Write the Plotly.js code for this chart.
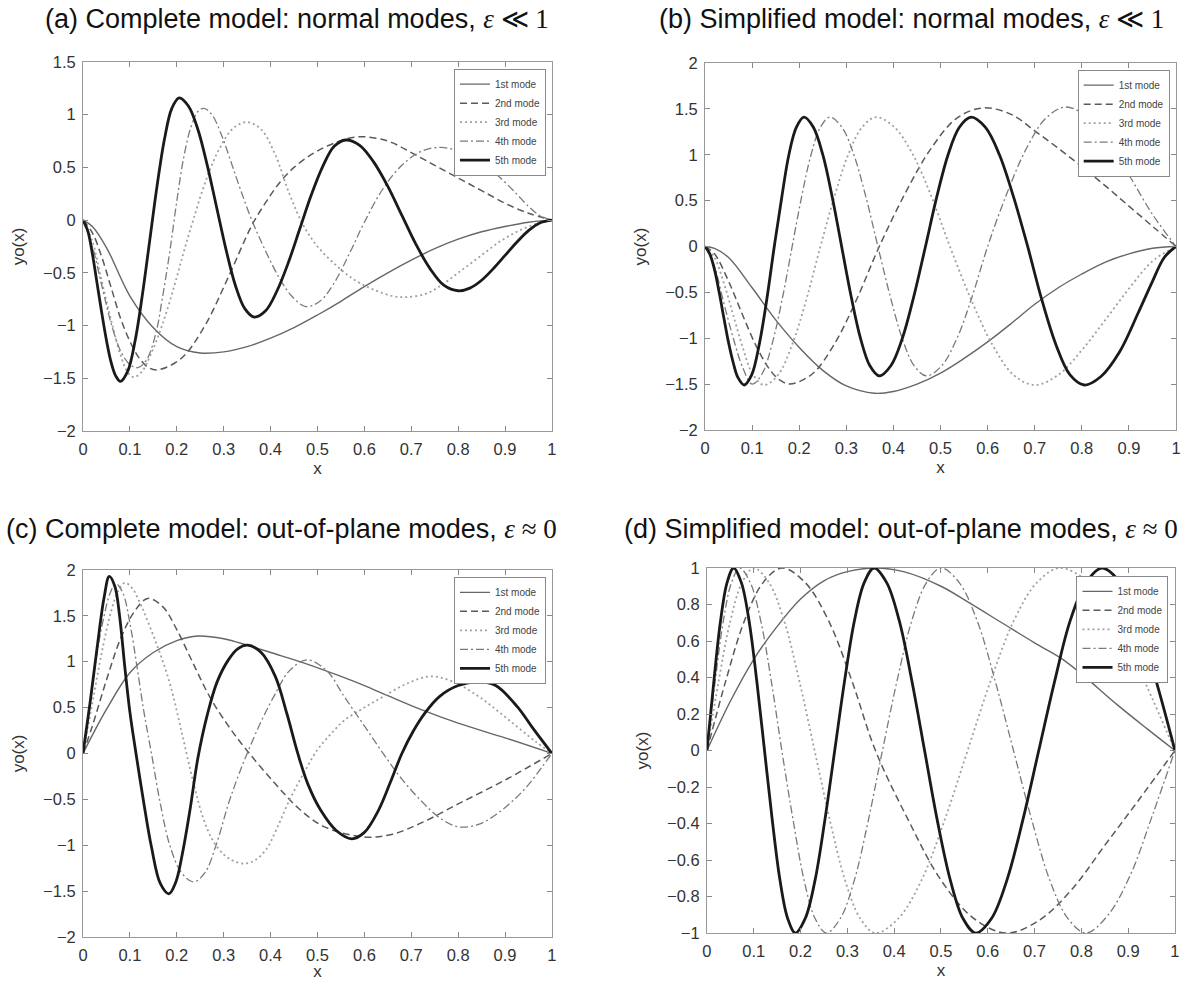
<!DOCTYPE html>
<html><head><meta charset="utf-8">
<script src="https://cdn.plot.ly/plotly-3.0.1.min.js"></script>
<style>html,body{margin:0;padding:0;background:#fff}#chart{width:1196px;height:981px}</style>
</head><body><div id="chart"></div>
<script>
// ---------- data ----------
const modeNames = ["1st mode", "2nd mode", "3rd mode", "4th mode", "5th mode"];
const panelTitles = [
  "(a) Complete model: normal modes, <span style=\"font-family:'Liberation Serif'\"><i>ε</i> ≪ 1</span>",
  "(b) Simplified model: normal modes, <span style=\"font-family:'Liberation Serif'\"><i>ε</i> ≪ 1</span>",
  "(c) Complete model: out-of-plane modes, <span style=\"font-family:'Liberation Serif'\"><i>ε</i> ≈ 0</span>",
  "(d) Simplified model: out-of-plane modes, <span style=\"font-family:'Liberation Serif'\"><i>ε</i> ≈ 0</span>"
];
const xTickVals = [0, 0.1, 0.2, 0.3, 0.4, 0.5, 0.6, 0.7, 0.8, 0.9, 1];

// (a) Complete model, normal modes
const xA1 = [0, 0.02, 0.05, 0.1, 0.15, 0.2, 0.25, 0.3, 0.35, 0.4, 0.45, 0.5, 0.55, 0.6, 0.65, 0.7, 0.75, 0.8, 0.85, 0.9, 0.95, 1];
const yA1 = [0, -0.06, -0.26, -0.72, -1.02, -1.2, -1.26, -1.25, -1.2, -1.12, -1.02, -0.9, -0.77, -0.63, -0.5, -0.38, -0.27, -0.18, -0.11, -0.06, -0.02, 0];
const xA2 = [0, 0.02, 0.04, 0.06, 0.08, 0.1, 0.12, 0.14, 0.16, 0.21, 0.26, 0.31, 0.36, 0.39, 0.42, 0.45, 0.49, 0.53, 0.585, 0.65, 0.7, 0.75, 0.8, 0.85, 0.9, 0.95, 1];
const yA2 = [0, -0.12, -0.35, -0.64, -0.93, -1.15, -1.31, -1.4, -1.42, -1.31, -1.0, -0.54, -0.05, 0.17, 0.36, 0.5, 0.63, 0.72, 0.79, 0.75, 0.64, 0.52, 0.4, 0.28, 0.16, 0.065, 0];
const xA3 = [0, 0.02, 0.04, 0.06, 0.08, 0.095, 0.108, 0.125, 0.145, 0.17, 0.195, 0.215, 0.235, 0.26, 0.29, 0.32, 0.35, 0.38, 0.41, 0.44, 0.47, 0.5, 0.54, 0.58, 0.62, 0.66, 0.69, 0.73, 0.76, 0.8, 0.845, 0.89, 0.93, 0.97, 1];
const yA3 = [0, -0.2, -0.58, -0.95, -1.28, -1.44, -1.49, -1.44, -1.27, -0.98, -0.62, -0.3, 0, 0.35, 0.67, 0.87, 0.93, 0.86, 0.62, 0.25, -0.05, -0.25, -0.43, -0.57, -0.66, -0.72, -0.73, -0.7, -0.63, -0.5, -0.35, -0.2, -0.1, -0.03, 0];
const xA4 = [0, 0.02, 0.04, 0.06, 0.08, 0.1, 0.117, 0.135, 0.155, 0.17, 0.185, 0.2, 0.215, 0.23, 0.245, 0.258, 0.275, 0.296, 0.315, 0.335, 0.36, 0.39, 0.42, 0.445, 0.475, 0.505, 0.535, 0.57, 0.6, 0.64, 0.68, 0.72, 0.763, 0.81, 0.85, 0.885, 0.92, 0.95, 0.975, 1];
const yA4 = [0, -0.25, -0.62, -0.98, -1.24, -1.37, -1.4, -1.33, -1.08, -0.72, -0.3, 0.18, 0.6, 0.88, 1.03, 1.06, 1.0, 0.8, 0.56, 0.3, 0, -0.3, -0.56, -0.72, -0.82, -0.77, -0.6, -0.3, -0.02, 0.3, 0.52, 0.65, 0.69, 0.64, 0.54, 0.42, 0.27, 0.13, 0.04, 0];
const xA5 = [0, 0.01, 0.02, 0.03, 0.04, 0.05, 0.06, 0.07, 0.08, 0.0956, 0.1113, 0.1269, 0.1425, 0.1581, 0.1738, 0.1894, 0.205, 0.225, 0.245, 0.265, 0.285, 0.305, 0.325, 0.345, 0.365, 0.3894, 0.4138, 0.4381, 0.4625, 0.4869, 0.5113, 0.5356, 0.56, 0.59, 0.62, 0.65, 0.68, 0.71, 0.74, 0.77, 0.8, 0.825, 0.85, 0.875, 0.9, 0.925, 0.95, 0.975, 1];
const yA5 = [0, -0.1, -0.32, -0.6, -0.88, -1.14, -1.35, -1.48, -1.53, -1.43, -1.14, -0.7, -0.185, 0.33, 0.77, 1.06, 1.16, 1.08, 0.86, 0.52, 0.12, -0.28, -0.62, -0.84, -0.92, -0.86, -0.67, -0.4, -0.08, 0.24, 0.51, 0.7, 0.76, 0.71, 0.55, 0.32, 0.045, -0.23, -0.46, -0.62, -0.67, -0.645, -0.57, -0.46, -0.335, -0.21, -0.1, -0.025, 0];

// (b) Simplified model, normal modes
const xB1 = [0, 0.02, 0.05, 0.1, 0.15, 0.2, 0.25, 0.3, 0.36, 0.4, 0.45, 0.5, 0.55, 0.6, 0.65, 0.7, 0.75, 0.8, 0.85, 0.9, 0.95, 1];
const yB1 = [0, -0.02, -0.12, -0.45, -0.8, -1.1, -1.35, -1.52, -1.6, -1.58, -1.5, -1.38, -1.22, -1.04, -0.84, -0.63, -0.45, -0.3, -0.17, -0.08, -0.02, 0];
const xB2 = [0, 0.02, 0.05, 0.08, 0.11, 0.14, 0.16, 0.18, 0.2275, 0.275, 0.3225, 0.37, 0.425, 0.48, 0.535, 0.59, 0.65, 0.7, 0.75, 0.8, 0.85, 0.9, 0.95, 1];
const yB2 = [0, -0.08, -0.38, -0.75, -1.1, -1.36, -1.46, -1.5, -1.39, -1.06, -0.57, 0, 0.58, 1.07, 1.4, 1.51, 1.44, 1.26, 1.07, 0.87, 0.66, 0.44, 0.22, 0];
const xB3 = [0, 0.02, 0.04, 0.06, 0.08, 0.1, 0.125, 0.155, 0.185, 0.215, 0.245, 0.2745, 0.304, 0.3335, 0.363, 0.402, 0.4415, 0.481, 0.52, 0.565, 0.61, 0.655, 0.7, 0.75, 0.8, 0.85, 0.9, 0.95, 1];
const yB3 = [0, -0.12, -0.4, -0.75, -1.1, -1.38, -1.51, -1.4, -1.07, -0.58, 0, 0.54, 1.0, 1.3, 1.41, 1.3, 1.0, 0.54, 0, -0.58, -1.07, -1.4, -1.51, -1.4, -1.13, -0.8, -0.46, -0.16, 0];
const xB4 = [0, 0.02, 0.04, 0.06, 0.08, 0.1, 0.121, 0.1425, 0.164, 0.185, 0.205, 0.225, 0.245, 0.265, 0.2905, 0.316, 0.3415, 0.367, 0.393, 0.4185, 0.444, 0.47, 0.5025, 0.535, 0.5675, 0.6, 0.641, 0.6825, 0.724, 0.765, 0.81, 0.855, 0.9, 0.95, 1];
const yB4 = [0, -0.22, -0.62, -1.0, -1.32, -1.5, -1.39, -1.06, -0.57, 0, 0.54, 1.0, 1.3, 1.41, 1.3, 1.0, 0.54, 0, -0.54, -1.0, -1.3, -1.41, -1.3, -1.0, -0.54, 0, 0.58, 1.07, 1.4, 1.52, 1.42, 1.15, 0.78, 0.35, 0];
const xB5 = [0, 0.01, 0.02, 0.03, 0.04, 0.05, 0.06, 0.07, 0.083, 0.099, 0.115, 0.131, 0.147, 0.163, 0.178, 0.194, 0.21, 0.23, 0.25, 0.27, 0.29, 0.31, 0.33, 0.35, 0.37, 0.3945, 0.419, 0.4435, 0.468, 0.492, 0.516, 0.54, 0.565, 0.595, 0.625, 0.655, 0.685, 0.715, 0.745, 0.775, 0.805, 0.84, 0.88, 0.92, 0.95, 0.975, 1];
const yB5 = [0, -0.08, -0.25, -0.5, -0.78, -1.05, -1.27, -1.43, -1.51, -1.4, -1.07, -0.58, 0, 0.54, 1.0, 1.3, 1.41, 1.3, 1.0, 0.54, 0, -0.54, -1.0, -1.3, -1.41, -1.3, -1.0, -0.54, 0, 0.54, 1.0, 1.3, 1.41, 1.3, 1.0, 0.54, 0, -0.58, -1.07, -1.4, -1.51, -1.42, -1.15, -0.72, -0.38, -0.12, 0];

// (c) Complete model, out-of-plane modes
const xC1 = [0, 0.02, 0.05, 0.1, 0.15, 0.2, 0.245, 0.3, 0.35, 0.4, 0.475, 0.55, 0.6, 0.65, 0.72, 0.8, 0.9, 1];
const yC1 = [0, 0.2, 0.48, 0.88, 1.1, 1.23, 1.28, 1.25, 1.18, 1.1, 0.98, 0.84, 0.74, 0.63, 0.48, 0.33, 0.17, 0];
const xC2 = [0, 0.02, 0.05, 0.08, 0.11, 0.138, 0.17, 0.2, 0.235, 0.27, 0.31, 0.35, 0.41, 0.46, 0.515, 0.6, 0.66, 0.72, 0.8, 0.9, 1];
const yC2 = [0, 0.3, 0.8, 1.25, 1.55, 1.69, 1.6, 1.35, 0.98, 0.62, 0.3, 0.03, -0.33, -0.6, -0.8, -0.91, -0.88, -0.76, -0.55, -0.29, 0];
const xC3 = [0, 0.02, 0.04, 0.06, 0.075, 0.089, 0.105, 0.125, 0.145, 0.165, 0.187, 0.211, 0.236, 0.256, 0.277, 0.3, 0.32, 0.343, 0.365, 0.39, 0.415, 0.44, 0.47, 0.5, 0.53, 0.557, 0.6, 0.64, 0.69, 0.741, 0.79, 0.844, 0.885, 0.926, 0.965, 1];
const yC3 = [0, 0.55, 1.1, 1.55, 1.77, 1.86, 1.8, 1.6, 1.35, 1.08, 0.73, 0.22, -0.33, -0.7, -0.95, -1.1, -1.17, -1.2, -1.17, -1.05, -0.8, -0.51, -0.22, 0.04, 0.22, 0.36, 0.5, 0.62, 0.76, 0.84, 0.78, 0.62, 0.46, 0.29, 0.13, 0];
const xC4 = [0, 0.015, 0.03, 0.045, 0.058, 0.07, 0.085, 0.1, 0.115, 0.13, 0.146, 0.165, 0.185, 0.21, 0.236, 0.26, 0.285, 0.31, 0.33, 0.35, 0.38, 0.41, 0.44, 0.478, 0.52, 0.557, 0.6, 0.64, 0.68, 0.72, 0.76, 0.8, 0.845, 0.885, 0.92, 0.95, 0.98, 1];
const yC4 = [0, 0.55, 1.1, 1.5, 1.75, 1.85, 1.75, 1.42, 0.95, 0.45, 0, -0.55, -1.0, -1.3, -1.4, -1.3, -0.98, -0.55, -0.26, 0, 0.35, 0.65, 0.9, 1.02, 0.9, 0.62, 0.3, 0, -0.28, -0.51, -0.7, -0.8, -0.77, -0.65, -0.5, -0.34, -0.14, 0];
const xC5 = [0, 0.015, 0.03, 0.045, 0.056, 0.068, 0.078, 0.089, 0.1, 0.113, 0.13, 0.146, 0.165, 0.183, 0.198, 0.212, 0.228, 0.245, 0.265, 0.286, 0.31, 0.33, 0.351, 0.38, 0.41, 0.435, 0.458, 0.48, 0.507, 0.54, 0.573, 0.6, 0.63, 0.655, 0.68, 0.705, 0.729, 0.76, 0.8, 0.844, 0.88, 0.926, 0.96, 1];
const yC5 = [0, 0.55, 1.15, 1.7, 1.93, 1.82, 1.5, 0.95, 0.45, 0, -0.55, -1.02, -1.42, -1.53, -1.4, -1.09, -0.62, -0.05, 0.42, 0.78, 1.02, 1.14, 1.18, 1.1, 0.84, 0.43, 0, -0.34, -0.62, -0.84, -0.93, -0.86, -0.62, -0.32, 0, 0.25, 0.44, 0.62, 0.74, 0.78, 0.74, 0.51, 0.27, 0];

// (d) Simplified model, out-of-plane modes
const xD1 = [0, 0.05, 0.1, 0.15, 0.2, 0.25, 0.3, 0.36, 0.42, 0.5, 0.56, 0.63, 0.7, 0.754, 0.8, 0.877, 0.94, 1];
const yD1 = [0, 0.27, 0.5, 0.68, 0.83, 0.93, 0.98, 1.0, 0.98, 0.9, 0.81, 0.7, 0.59, 0.51, 0.42, 0.25, 0.12, 0];
const xD2 = [0, 0.04, 0.08, 0.12, 0.16, 0.21, 0.26, 0.31, 0.36, 0.43, 0.5, 0.57, 0.64, 0.71, 0.78, 0.85, 0.92, 1];
const yD2 = [0, 0.38, 0.71, 0.92, 1.0, 0.92, 0.71, 0.38, 0, -0.38, -0.71, -0.92, -1.0, -0.93, -0.76, -0.52, -0.28, 0];
const xD3 = [0, 0.025, 0.05, 0.075, 0.1, 0.1325, 0.165, 0.1975, 0.23, 0.2625, 0.295, 0.3275, 0.36, 0.409, 0.4585, 0.508, 0.557, 0.606, 0.6555, 0.705, 0.754, 0.8155, 0.877, 0.9385, 1];
const yD3 = [0, 0.38, 0.71, 0.92, 1, 0.92, 0.71, 0.38, 0, -0.38, -0.71, -0.92, -1, -0.92, -0.71, -0.38, 0, 0.38, 0.71, 0.92, 1, 0.92, 0.7, 0.36, 0];
const xD4 = [0, 0.0175, 0.035, 0.0525, 0.07, 0.0925, 0.115, 0.1375, 0.16, 0.184, 0.2075, 0.231, 0.255, 0.285, 0.315, 0.345, 0.375, 0.406, 0.4375, 0.469, 0.5, 0.539, 0.5775, 0.616, 0.655, 0.694, 0.7325, 0.771, 0.81, 0.8575, 0.905, 0.9525, 1];
const yD4 = [0, 0.38, 0.71, 0.92, 1, 0.92, 0.71, 0.38, 0, -0.38, -0.71, -0.92, -1, -0.92, -0.71, -0.38, 0, 0.38, 0.71, 0.92, 1, 0.92, 0.71, 0.38, 0, -0.38, -0.71, -0.92, -1, -0.9, -0.68, -0.35, 0];
const xD5 = [0, 0.014, 0.0285, 0.043, 0.057, 0.0735, 0.09, 0.1065, 0.123, 0.1395, 0.156, 0.1725, 0.189, 0.21, 0.231, 0.252, 0.273, 0.294, 0.315, 0.336, 0.357, 0.384, 0.411, 0.438, 0.465, 0.492, 0.52, 0.547, 0.574, 0.608, 0.641, 0.675, 0.709, 0.743, 0.776, 0.81, 0.844, 0.883, 0.922, 0.961, 1];
const yD5 = [0, 0.36, 0.7, 0.92, 1, 0.92, 0.71, 0.38, 0, -0.38, -0.71, -0.92, -1, -0.92, -0.71, -0.38, 0, 0.38, 0.71, 0.92, 1, 0.92, 0.71, 0.38, 0, -0.38, -0.71, -0.92, -1, -0.92, -0.71, -0.38, 0, 0.38, 0.71, 0.92, 1, 0.92, 0.7, 0.37, 0];

// ---------- styling ----------
const FONT = "'Liberation Sans', Arial, Helvetica, sans-serif";
const lineStyles = [
  {color: '#666666', width: 1.4, dash: 'solid'},
  {color: '#5a5a5a', width: 1.5, dash: '7px,4px'},
  {color: '#a0a0a0', width: 1.8, dash: '2px,3px'},
  {color: '#7a7a7a', width: 1.3, dash: '8px,3px,2px,3px'},
  {color: '#1a1a1a', width: 2.8, dash: 'solid'}
];

const panels = [
  {xs: [xA1, xA2, xA3, xA4, xA5], ys: [yA1, yA2, yA3, yA4, yA5], xd: [0.0694, 0.4615], yd: [0.5607, 0.9368], yr: [-2, 1.5], dt: 0.5, leg: [0.4565, 0.930]},
  {xs: [xB1, xB2, xB3, xB4, xB5], ys: [yB1, yB2, yB3, yB4, yB5], xd: [0.5895, 0.9833], yd: [0.5617, 0.9358], yr: [-2, 2], dt: 0.5, leg: [0.978, 0.929]},
  {xs: [xC1, xC2, xC3, xC4, xC5], ys: [yC1, yC2, yC3, yC4, yC5], xd: [0.0694, 0.4615], yd: [0.0449, 0.4190], yr: [-2, 2], dt: 0.5, leg: [0.4565, 0.412]},
  {xs: [xD1, xD2, xD3, xD4, xD5], ys: [yD1, yD2, yD3, yD4, yD5], xd: [0.5911, 0.9824], yd: [0.0489, 0.4210], yr: [-1, 1], dt: 0.2, leg: [0.977, 0.413]}
];
const titlePos = [[43, 19], [657, 19], [4, 529], [622, 529]];

const traces = [];
const layout = {
  width: 1196, height: 981,
  margin: {l: 0, r: 0, t: 0, b: 0},
  paper_bgcolor: '#ffffff', plot_bgcolor: '#ffffff',
  font: {family: FONT, color: '#333'},
  annotations: []
};

panels.forEach((p, i) => {
  const n = i + 1;
  const sfx = n === 1 ? '' : String(n);
  const xa = 'xaxis' + sfx, ya = 'yaxis' + sfx;
  const xr = 'x' + sfx, yr = 'y' + sfx;
  const legName = 'legend' + sfx;
  for (let m = 0; m < 5; m++) {
    traces.push({
      type: 'scatter', mode: 'lines',
      x: p.xs[m], y: p.ys[m],
      xaxis: xr, yaxis: yr,
      name: modeNames[m],
      legend: legName,
      line: Object.assign({shape: 'spline', smoothing: 1}, lineStyles[m]),
      hoverinfo: 'skip'
    });
  }
  const common = {
    ticks: 'inside', ticklen: 5, tickwidth: 1, tickcolor: '#888',
    showline: true, linecolor: '#999', linewidth: 1, mirror: 'ticks',
    showgrid: false, zeroline: false, ticklabelstandoff: 3,
    tickfont: {family: FONT, size: 16.5, color: '#333'}
  };
  layout[xa] = Object.assign({}, common, {
    domain: p.xd, range: [0, 1], tickvals: xTickVals, anchor: yr,
    title: {text: 'x', font: {family: FONT, size: 17, color: '#333'}, standoff: 5}
  });
  layout[ya] = Object.assign({}, common, {
    domain: p.yd, range: p.yr, dtick: p.dt, tick0: 0, anchor: xr,
    title: {text: 'yo(x)', font: {family: FONT, size: 17, color: '#333'}, standoff: 14}
  });
  layout[legName] = {
    x: p.leg[0], y: p.leg[1], xanchor: 'right', yanchor: 'top',
    bgcolor: '#ffffff', bordercolor: '#888', borderwidth: 1,
    font: {family: FONT, size: 10, color: '#444'},
    itemwidth: 30, tracegroupgap: 0, traceorder: 'normal'
  };
  layout.annotations.push({
    xref: 'paper', yref: 'paper',
    x: titlePos[i][0] / 1196, y: 1 - titlePos[i][1] / 981,
    xanchor: 'left', yanchor: 'middle', showarrow: false,
    text: panelTitles[i],
    font: {family: FONT, size: 27, color: '#111'}
  });
});

Plotly.newPlot('chart', traces, layout, {staticPlot: true, displayModeBar: false});
</script></body></html>
